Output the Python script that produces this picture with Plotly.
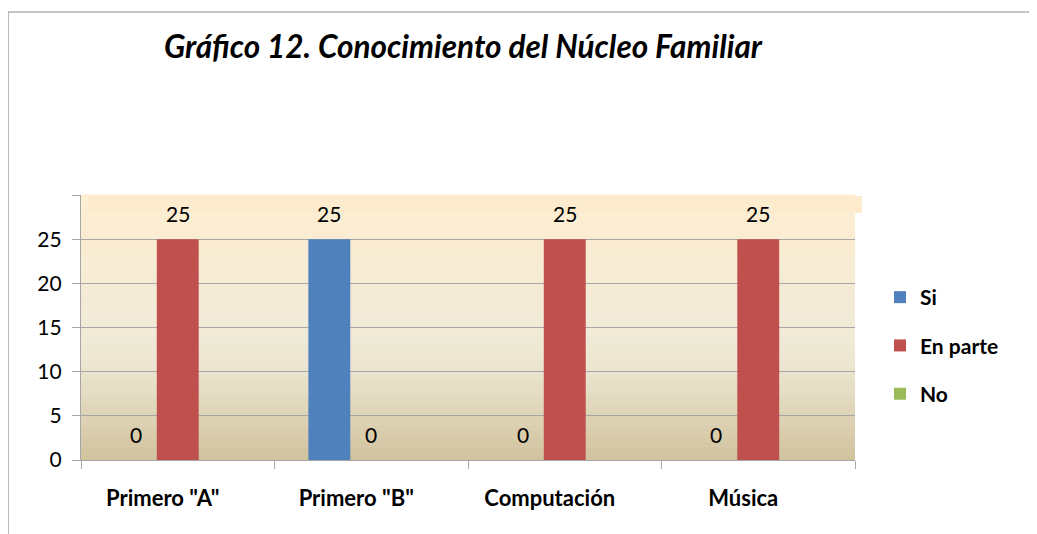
import plotly.graph_objects as go

categories = ['Primero "A"', 'Primero "B"', "Computación", "Música"]
series_names = ["Si", "En parte", "No"]
si_values = [0, 25, 0, 0]
en_parte_values = [25, 0, 25, 25]
no_values = [None, None, None, None]
y_tick_values = [0, 5, 10, 15, 20, 25, 30]
y_tick_labels = ["0", "5", "10", "15", "20", "25", ""]

COLORS = ["#4F81BD", "#C0504D", "#9BBB59"]
FONT = "Lato, 'Open Sans', sans-serif"
PAGE_OFF = 8  # the page body adds 8px around the figure
WIDTH, HEIGHT = 1037 - PAGE_OFF, 534 - PAGE_OFF
MARGIN = dict(l=81 - PAGE_OFF, r=WIDTH - (855 - PAGE_OFF), t=195 - PAGE_OFF, b=HEIGHT - (460 - PAGE_OFF))
BARGAP = 0.35

plot_w = WIDTH - MARGIN["l"] - MARGIN["r"]
plot_h = HEIGHT - MARGIN["t"] - MARGIN["b"]


def px_to_paper_x(px):
    return (px - PAGE_OFF - MARGIN["l"]) / plot_w


def px_to_paper_y(py):
    return (HEIGHT - MARGIN["b"] - (py - PAGE_OFF)) / plot_h


fig = go.Figure()
all_values = [si_values, en_parte_values, no_values]
for i, (name, values, color) in enumerate(zip(series_names, all_values, COLORS)):
    fig.add_trace(go.Bar(name=name, x=categories, y=values, marker_color=color,
                         marker_line_width=0, legendgroup="g%d" % i))

# data labels, shifted to each bar's slot in the group
cat_w = plot_w / len(categories)
bar_w = cat_w * (1 - BARGAP) / len(series_names)
annotations = []
for i, values in enumerate(all_values):
    offset = (i - (len(series_names) - 1) / 2) * bar_w
    for cat, val in zip(categories, values):
        if val is None:
            continue
        annotations.append(
            dict(
                x=cat, y=val, xref="x", yref="y", text=str(val), showarrow=False,
                xshift=offset, yshift=26, yanchor="middle",
                font=dict(family=FONT, size=21, color="#000000"),
            )
        )

# vertical gradient for the plot area (Excel-style fill)
stops = [
    (0.0, (209, 194, 158)),
    (0.17, (222, 212, 182)),
    (0.34, (235, 229, 208)),
    (0.5, (241, 235, 216)),
    (0.83, (250, 236, 210)),
    (1.0, (254, 239, 210)),
]


def grad_color(t):
    for (t0, c0), (t1, c1) in zip(stops[:-1], stops[1:]):
        if t0 <= t <= t1:
            f = (t - t0) / (t1 - t0)
            return "rgb(%d,%d,%d)" % tuple(round(a + (b - a) * f) for a, b in zip(c0, c1))
    return "rgb(%d,%d,%d)" % stops[-1][1]


shapes = []
n_slices = 60
for k in range(n_slices):
    y0 = k / n_slices
    y1 = (k + 1) / n_slices
    shapes.append(
        dict(type="rect", xref="x domain", yref="y domain", x0=0, x1=1, y0=y0, y1=y1 + 0.002,
             fillcolor=grad_color((y0 + y1) / 2), line_width=0, layer="below")
    )

# light strip behind the top data labels
shapes.append(
    dict(type="rect", xref="paper", yref="paper", x0=px_to_paper_x(88), x1=px_to_paper_x(862),
         y0=px_to_paper_y(213), y1=px_to_paper_y(196), fillcolor="#FDEBCD", line_width=0, layer="below")
)

# outer chart border (right and bottom edges fall outside the picture)
shapes.append(
    dict(type="rect", xref="paper", yref="paper", x0=px_to_paper_x(8), x1=px_to_paper_x(1060),
         y0=px_to_paper_y(560), y1=px_to_paper_y(12), line=dict(color="#8C8C8C", width=1.2),
         fillcolor="rgba(0,0,0,0)", layer="below")
)

fig.update_layout(
    width=WIDTH,
    height=HEIGHT,
    margin=MARGIN,
    paper_bgcolor="#FFFFFF",
    plot_bgcolor="rgba(0,0,0,0)",
    barmode="group",
    bargap=BARGAP,
    bargroupgap=0,
    font=dict(family=FONT, size=21, color="#000000"),
    title=dict(
        text="<b><i>Gráfico 12. Conocimiento del Núcleo Familiar</i></b>",
        x=(463 - PAGE_OFF) / WIDTH, xanchor="center", xref="container",
        y=1 - (47 - PAGE_OFF) / HEIGHT, yanchor="middle", yref="container",
        font=dict(family=FONT, size=31.5, color="#000000"),
    ),
    legend=dict(
        x=px_to_paper_x(880), xanchor="left",
        y=px_to_paper_y(277), yanchor="top",
        font=dict(family=FONT, size=21, color="#000000", weight="bold"),
        traceorder="grouped",
        tracegroupgap=18,
        itemwidth=30,
        bgcolor="rgba(0,0,0,0)",
    ),
    shapes=shapes,
    annotations=annotations,
    showlegend=True,
)

fig.update_xaxes(
    showgrid=False,
    showline=True, linecolor="#A6A6A6", linewidth=1.2,
    ticks="outside", tickson="boundaries", ticklen=8, tickcolor="#A6A6A6",
    tickfont=dict(family=FONT, size=22, color="#000000", weight="bold"),
    ticklabelstandoff=18,
    ticklabelshift=-15,
)
fig.update_yaxes(
    range=[0, 30],
    tickvals=y_tick_values, ticktext=y_tick_labels,
    showgrid=True, gridcolor="#A6A6A6", gridwidth=1.2,
    showline=True, linecolor="#A6A6A6", linewidth=1.2,
    ticks="outside", ticklen=8, tickcolor="#A6A6A6",
    tickfont=dict(family=FONT, size=21, color="#000000"),
    ticklabelstandoff=6,
    zeroline=False,
)

fig.write_html("out.html")
